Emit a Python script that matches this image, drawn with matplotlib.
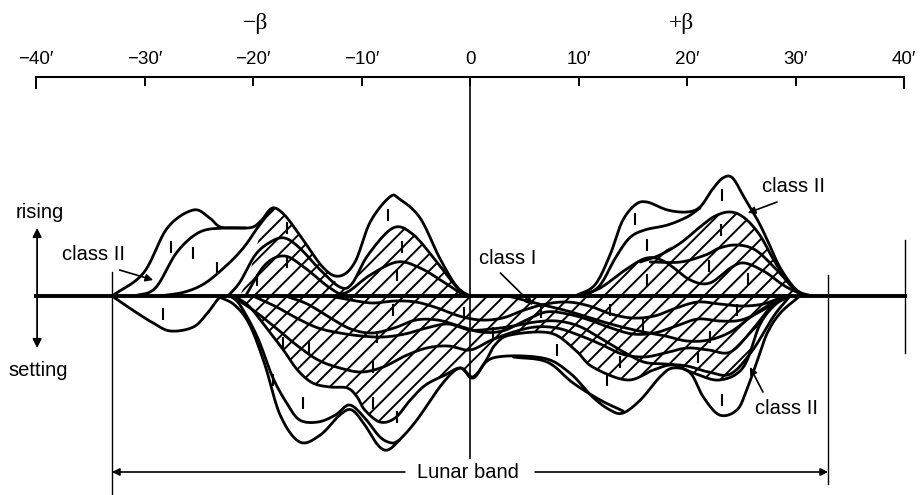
import numpy as np
import matplotlib.pyplot as plt

# x = ecliptic latitude of the moon in arc minutes, y = height above the
# horizon line (arbitrary units, + rising side, - setting side)

scale_ticks = [-40, -30, -20, -10, 0, 10, 20, 30, 40]
scale_labels = ["\u221240\u2032", "\u221230\u2032", "\u221220\u2032", "\u221210\u2032", "0",
                "10\u2032", "20\u2032", "30\u2032", "40\u2032"]

# rising side, left group (class II envelopes)
a1_x = [-33.0, -30.1, -27.9, -25.5, -24.0, -23.0, -21.2, -20.0, -19.2, -18.2, -17.1, -15.7,
        -13.5, -12.0, -10.6, -9.2, -7.4, -6.5, -4.6, -2.8, -1.2, 0.0]
a1_y = [0, 23, 68, 86, 78, 69, 68, 69, 76, 88, 81, 61, 28, 20, 34, 74, 99, 97, 78, 38, 9, 0]
a2_x = [-30.9, -29.0, -27.0, -24.9, -22.6, -20.7]
a2_y = [0, 8, 44, 64, 68, 68]
a3_x = [-28.6, -26.3, -24.4, -22.4, -20.9, -19.6, -18.9, -18.2]
a3_y = [0, 4, 13, 31, 48, 68, 78, 88]
b2_x = [-22.3, -21.2, -19.8, -18.4, -17.1, -15.7, -13.8, -12.0, -10.9, -9.4, -7.1, -5.3,
        -3.2, -1.4, -0.2]
b2_y = [0, 14, 41, 54, 58, 48, 26, 9, 12, 41, 68, 62, 36, 11, 0]
b3_x = [-20.7, -18.9, -17.1, -15.2, -12.9, -11.5, -9.2, -6.7, -4.6, -2.3, -0.5]
b3_y = [0, 31, 40, 28, 8, 3, 21, 34, 28, 13, 0]
hatch_rl_x = [-21.2, -20.3, -19.5, -18.9, -18.2, -17.1, -15.7, -13.5, -12.0, -10.9, -9.4,
              -7.1, -5.3, -3.2, -1.4, -0.2]
hatch_rl_y = [0, 24, 56, 76, 88, 81, 61, 28, 11, 12, 41, 68, 62, 36, 11, 0]

# rising side, right group
c1_x = [9.7, 11.5, 12.9, 14.0, 15.2, 16.3, 18.2, 20.0, 21.2, 22.3, 23.3, 24.2, 25.3, 26.5,
        27.4, 28.6, 30.1, 31.5]
c1_y = [0, 11, 41, 74, 91, 94, 86, 84, 89, 106, 118, 118, 98, 76, 56, 28, 6, 0]
c2_x = [10.6, 12.0, 13.4, 14.7, 16.1, 18.2, 20.0, 21.2]
c2_y = [0, 11, 38, 58, 66, 71, 79, 88]
c3_x = [15.7, 17.5, 19.4, 21.2, 22.6, 24.0, 25.3, 26.7, 28.1, 29.5, 30.9]
c3_y = [34, 41, 53, 69, 80, 84, 78, 61, 34, 11, 0]
c4_x = [16.6, 19.4, 21.7, 23.0, 24.6, 26.3, 28.1, 30.0, 30.9]
c4_y = [34, 34, 41, 48, 51, 46, 28, 6, 0]
c5_x = [10.0, 12.0, 14.3, 16.3, 18.0, 20.3, 22.1, 24.0, 25.3, 27.2, 29.0, 30.9]
c5_y = [0, 8, 26, 38, 34, 16, 13, 28, 33, 24, 10, 0]
hatch_rr_x = [10.6, 12.0, 14.3, 16.3, 18.0, 19.8, 21.2, 22.6, 24.0, 25.3, 26.7, 28.1, 29.5, 30.9]
hatch_rr_y = [0, 8, 26, 38, 46, 58, 69, 80, 84, 78, 61, 34, 11, 0]

# setting side
e_x = [-33.0, -31.1, -29.2, -27.6, -25.5, -24.2, -23.3, -22.9]
e_y = [0, -14, -27, -35, -31, -17, -4, 0]
d1_x = [-23.3, -21.7, -20.3, -18.9, -17.5, -15.7, -13.8, -12.0, -10.9, -9.7, -8.5, -7.6, -6.5,
        -4.9, -2.5, -0.9, 0.3, 2.1, 6.7, 9.2, 11.3, 12.9, 14.1, 15.7, 17.5, 18.7, 20.3, 21.5,
        23.0, 24.6, 25.5, 26.5, 27.4, 28.6, 30.4]
d1_y = [0, -9, -29, -69, -119, -146, -139, -119, -114, -129, -149, -154, -144, -124, -87, -72,
        -82, -62, -62, -77, -101, -114, -117, -104, -81, -72, -77, -101, -119, -114, -94, -64,
        -37, -17, 0]
d2_x = [-22.1, -21.2, -19.6, -18.2, -16.9, -15.7, -14.0, -12.4, -11.1, -9.7, -8.3, -7.2, -6.5]
d2_y = [0, -9, -41, -81, -107, -124, -126, -119, -109, -122, -141, -147, -144]
d3_x = [4.0, 7.1, 9.5, 12.0, 14.1]
d3_y = [-61, -66, -87, -104, -115]
hatch_s_x = [-21.7, -20.3, -18.4, -17.2, -15.9, -14.5, -12.9, -11.3, -10.4, -9.7, -8.3, -6.9,
             -5.5, -4.1, -2.3, -0.9, 0.3, 1.4, 2.3, 3.7, 7.4, 9.7, 11.3, 14.5, 16.9, 18.7,
             20.6, 23.0, 25.2, 26.7, 28.1, 29.5]
hatch_s_y = [0, -11, -37, -54, -74, -87, -91, -92, -101, -114, -126, -122, -104, -89, -79, -72,
             -81, -66, -49, -39, -37, -54, -71, -84, -74, -69, -77, -84, -71, -29, -9, 0]

g1_x = [-22, -20, -18, -16, -14, -12, -10, -8, -6, -4, -2, 0, 2, 4, 6, 8, 10, 12, 14, 16, 18,
        20, 22, 24, 26, 28, 29]
g1_y = [0, -14, -31, -49, -64, -72, -76, -71, -60, -52, -50, -54, -44, -36, -31, -32, -39, -48,
        -58, -61, -57, -52, -54, -56, -34, -7, 0]
g2_x = [-17, -15, -13, -11, -9, -7, -5, -3, -1, 1, 3, 5, 7, 9, 11, 13, 15, 17, 19, 21, 23, 25,
        27, 29]
g2_y = [0, -8, -21, -33, -37, -32, -24, -24, -30, -36, -35, -25, -16, -18, -24, -32, -38, -37,
        -30, -23, -25, -24, -14, 0]
g3_x = [-13, -11, -9, -7, -5, -3, -1, 1, 3, 5, 7, 9, 11, 13, 15, 17, 19, 21, 23, 25, 27, 29]
g3_y = [0, -4, -7, -5, -6, -12, -20, -24, -22, -14, -8, -6, -10, -18, -22, -20, -12, -6, -8,
        -10, -8, 0]
g4_x = [3.5, 6, 9, 12, 14, 16, 18, 20, 22, 24, 26, 28, 29.5]
g4_y = [0, -7, -15, -25, -31, -36, -40, -45, -44, -36, -20, -6, 0]
g5_x = [-20, -18, -16, -14, -12, -10, -8, -6, -4, -2, 0, 2, 4, 6, 8, 10, 12, 14, 16, 18, 20,
        22, 24, 26, 28, 29.5]
g5_y = [0, -10, -22, -32, -37, -40, -41, -38, -32, -28, -34, -33, -30, -26, -25, -30, -42, -55,
        -66, -68, -70, -76, -78, -55, -20, 0]

# short "I" marks between curves
mark_x = [-27.6, -25.5, -23.3, -19.6, -16.9, -16.9, -7.6, -6.3, -6.7, 15.2, 16.3, 16.3, 22.0,
          23.2, 23.1, 25.6,
          -28.3, -18.2, -15.4, -17.2, -14.8, -8.9, -8.9, -8.6, -7.1, -6.7, -0.6, 2.1, 6.5,
          8.0, 12.9, 12.6, 13.8, 15.9, 21.0, 22.1, 23.2, 24.6]
mark_y = [49, 43, 28, 16, 68, 34, 81, 49, 21, 77, 51, 16, 30, 101, 66, 17,
          -18, -84, -107, -47, -51, -71, -107, -41, -14, -121, -17, -37, -16, -54, -14, -84,
          -66, -29, -61, -41, -104, -14]


def smooth(x, y, n=12):
    # Catmull-Rom through the read-off points, to get the hand-drawn look
    x = np.asarray(x, float)
    y = np.asarray(y, float)
    out = []
    for v in (x, y):
        p = np.concatenate([[2 * v[0] - v[1]], v, [2 * v[-1] - v[-2]]])
        p0, p1, p2, p3 = p[:-3], p[1:-2], p[2:-1], p[3:]
        t = np.linspace(0, 1, n, endpoint=False)[:, None]
        s = 0.5 * (2 * p1 + (-p0 + p2) * t + (2 * p0 - 5 * p1 + 4 * p2 - p3) * t ** 2
                   + (-p0 + 3 * p1 - 3 * p2 + p3) * t ** 3)
        out.append(np.append(s.T.ravel(), v[-1]))
    return out


plt.rcParams['hatch.linewidth'] = 1.4
sans = 'Liberation Sans'
serif = 'Liberation Serif'

fig = plt.figure(figsize=(9.23, 4.95), dpi=100)
ax = fig.add_axes([0, 0, 1, 1])
ax.set_xlim(-43.32, 41.75)
ax.set_ylim(-199, 296)
ax.axis('off')

# hatched areas
for hx, hy in [(hatch_rl_x, hatch_rl_y), (hatch_rr_x, hatch_rr_y), (hatch_s_x, hatch_s_y)]:
    sx, sy = smooth(hx, hy)
    ax.fill_between(sx, sy, 0, facecolor='none', edgecolor='black', hatch='//',
                    linewidth=0, zorder=1)

curves = [(a1_x, a1_y), (a2_x, a2_y), (a3_x, a3_y), (b2_x, b2_y), (b3_x, b3_y),
          (c1_x, c1_y), (c2_x, c2_y), (c3_x, c3_y), (c4_x, c4_y), (c5_x, c5_y),
          (e_x, e_y), (d1_x, d1_y), (d2_x, d2_y), (d3_x, d3_y), (hatch_s_x, hatch_s_y),
          (g1_x, g1_y), (g2_x, g2_y), (g3_x, g3_y), (g4_x, g4_y), (g5_x, g5_y)]
for cx, cy in curves:
    sx, sy = smooth(cx, cy)
    ax.plot(sx, sy, color='black', lw=2.0, solid_capstyle='round', zorder=3)

ax.plot(mark_x, mark_y, ls='none', marker='|', ms=8, mew=1.5, color='black', zorder=4)

# horizon line and verticals
ax.plot([-40, 40.1], [0, 0], color='black', lw=2.8, zorder=3)
ax.plot([0, 0], [219, -162], color='black', lw=1.2, zorder=2)
ax.plot([-33.0, -33.0], [24, -199], color='black', lw=1.0, zorder=2)
ax.plot([33.0, 33.0], [21, -188], color='black', lw=1.0, zorder=2)
ax.plot([40.1, 40.1], [56, -57], color='black', lw=1.0, zorder=2)

# scale across the top
ax.plot([scale_ticks[0], scale_ticks[-1]], [219, 219], color='black', lw=1.5)
for t, lab in zip(scale_ticks, scale_labels):
    tl = 11 if abs(t) == 40 else 8
    ax.plot([t, t], [219, 219 - tl], color='black', lw=1.4)
    ax.text(t, 236, lab, ha='center', va='center', fontsize=13.5, family=sans)
ax.text(-19.8, 273, "\u2212\u03b2", ha='center', va='center', fontsize=17, family=serif)
ax.text(19.5, 273, "+\u03b2", ha='center', va='center', fontsize=17, family=serif)

# rising / setting
ax.annotate('', xy=(-39.9, 68), xytext=(-39.9, -52),
            arrowprops=dict(arrowstyle='<|-|>', color='black', lw=1.3, mutation_scale=13,
                            shrinkA=0, shrinkB=0))
ax.text(-39.7, 83, "rising", ha='center', va='center', fontsize=14.5, family=sans)
ax.text(-39.8, -74, "setting", ha='center', va='center', fontsize=14.5, family=sans)

# class labels
arrow_kw = dict(arrowstyle='-|>', color='black', lw=1.2, mutation_scale=11,
                shrinkA=0, shrinkB=0)
ax.text(-34.7, 41, "class II", ha='center', va='center', fontsize=14.5, family=sans)
ax.annotate('', xy=(-29.2, 16), xytext=(-32.3, 26), arrowprops=arrow_kw)
ax.text(29.8, 109, "class II", ha='center', va='center', fontsize=14.5, family=sans)
ax.annotate('', xy=(25.6, 83), xytext=(28.3, 94), arrowprops=arrow_kw)
ax.text(3.5, 38, "class I", ha='center', va='center', fontsize=14.5, family=sans)
ax.annotate('', xy=(5.8, -9), xytext=(2.8, 23), arrowprops=arrow_kw)
ax.text(29.2, -112, "class II", ha='center', va='center', fontsize=14.5, family=sans)
ax.annotate('', xy=(25.8, -71), xytext=(27.0, -96), arrowprops=arrow_kw)

# lunar band
ax.text(-0.2, -176, "Lunar band", ha='center', va='center', fontsize=14.5, family=sans)
ax.annotate('', xy=(-33.0, -176), xytext=(-6.0, -176), arrowprops=arrow_kw)
ax.annotate('', xy=(33.0, -176), xytext=(6.0, -176), arrowprops=arrow_kw)

fig.savefig('out.png', dpi=100)
